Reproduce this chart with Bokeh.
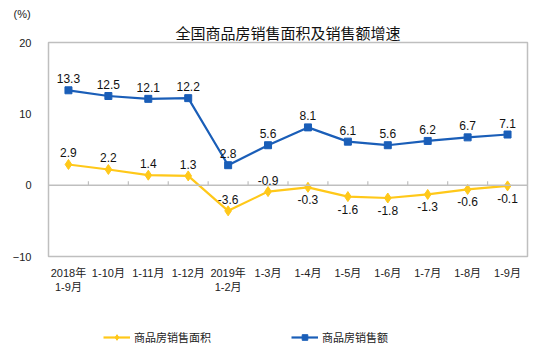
from math import pi
from bokeh.plotting import figure
from bokeh.layouts import column
from bokeh.models import (ColumnDataSource, FixedTicker, LinearAxis, Legend,
                          LegendItem, Range1d, LabelSet, Span, Title)
from bokeh.core.properties import value
from bokeh.embed import file_html
from bokeh.resources import INLINE

categories = ["2018年\n1-9月", "1-10月", "1-11月", "1-12月", "2019年\n1-2月", "1-3月",
              "1-4月", "1-5月", "1-6月", "1-7月", "1-8月", "1-9月"]
area = [2.9, 2.2, 1.4, 1.3, -3.6, -0.9, -0.3, -1.6, -1.8, -1.3, -0.6, -0.1]
sales = [13.3, 12.5, 12.1, 12.2, 2.8, 5.6, 8.1, 6.1, 5.6, 6.2, 6.7, 7.1]
area_label_above = [True, True, True, True, True, True, False, False, False, False, False, False]
y_ticks = [-10, 0, 10, 20]
series_names = ["商品房销售面积", "商品房销售额"]

YELLOW = "#FFC819"
BLUE = "#1A5EB8"
GRAY = "#BFBFBF"
NUMFONT = "Liberation Sans"
CJK = "Noto Sans CJK SC"
MIXED = "Liberation Sans, Noto Sans CJK SC"

n = len(categories)
xs = [i + 0.5 for i in range(n)]

p = figure(width=546, height=310, output_backend="svg", toolbar_location=None,
           x_range=Range1d(0, n), y_range=Range1d(-10, 20),
           min_border_left=48, min_border_right=19, min_border_top=42, min_border_bottom=54,
           x_axis_location=None, y_axis_location=None)
p.grid.visible = False
p.outline_line_color = GRAY
p.outline_line_width = 1.5
p.background_fill_color = "white"
p.border_fill_color = "white"

# titles: first added is closest to the frame
p.add_layout(Title(text="全国商品房销售面积及销售额增速", align="center", offset=-13,
                   text_font=CJK, text_font_size="15px", text_font_style="normal",
                   text_color="#111111", standoff=0), "above")
p.add_layout(Title(text="(%)", align="left", offset=-35,
                   text_font=NUMFONT, text_font_size="11px", text_font_style="normal",
                   text_color="#222222", standoff=0), "above")

# y axis
yax = LinearAxis(ticker=FixedTicker(ticks=y_ticks))
yax.axis_line_color = None
yax.major_tick_line_color = None
yax.minor_tick_line_color = None
yax.major_label_text_font = NUMFONT
yax.major_label_text_font_size = "11px"
yax.major_label_text_color = "#222222"
yax.major_label_standoff = 11
p.add_layout(yax, "left")

# category labels axis (bottom)
xax = LinearAxis(ticker=FixedTicker(ticks=xs))
xax.major_label_overrides = {x: c for x, c in zip(xs, categories)}
xax.axis_line_color = None
xax.major_tick_line_color = None
xax.minor_tick_line_color = None
xax.major_label_text_font = MIXED
xax.major_label_text_font_size = "11px"
xax.major_label_text_color = "#222222"
xax.major_label_standoff = 4
p.add_layout(xax, "below")

# zero line with category boundary ticks
p.add_layout(Span(location=0, dimension="width", line_color=GRAY, line_width=1.5))
bounds = list(range(1, n))
p.ray(x=bounds, y=[0] * len(bounds), length=4, length_units="screen", angle=pi / 2,
      line_color=GRAY, line_width=1.2)

src = ColumnDataSource(dict(x=xs, area=area, sales=sales,
                            sales_txt=[f"{v:.1f}" for v in sales]))

p.line("x", "area", source=src, line_color=YELLOW, line_width=2.2)
p.scatter("x", "area", source=src, marker="diamond", size=10, fill_color=YELLOW,
          line_color=YELLOW)
p.line("x", "sales", source=src, line_color=BLUE, line_width=2.2)
p.scatter("x", "sales", source=src, marker="square", size=7, fill_color=BLUE,
          line_color=BLUE)

p.add_layout(LabelSet(x="x", y="sales", text="sales_txt", source=src, y_offset=7,
                      text_align="center", text_baseline="bottom",
                      text_font=value(NUMFONT), text_font_size="12px",
                      text_color="#111111"))
src_up = ColumnDataSource(dict(
    x=[x for x, a in zip(xs, area_label_above) if a],
    y=[v for v, a in zip(area, area_label_above) if a],
    t=[f"{v:.1f}" for v, a in zip(area, area_label_above) if a]))
src_dn = ColumnDataSource(dict(
    x=[x for x, a in zip(xs, area_label_above) if not a],
    y=[v for v, a in zip(area, area_label_above) if not a],
    t=[f"{v:.1f}" for v, a in zip(area, area_label_above) if not a]))
p.add_layout(LabelSet(x="x", y="y", text="t", source=src_up, y_offset=7,
                      text_align="center", text_baseline="bottom",
                      text_font=value(NUMFONT), text_font_size="12px",
                      text_color="#111111"))
p.add_layout(LabelSet(x="x", y="y", text="t", source=src_dn, y_offset=-8,
                      text_align="center", text_baseline="top",
                      text_font=value(NUMFONT), text_font_size="12px",
                      text_color="#111111"))

# legend strip below (its renderers share the data but the range keeps them off-view)
q = figure(width=546, height=41, output_backend="svg", toolbar_location=None,
           x_range=Range1d(-200, -199), y_range=Range1d(-200, -199),
           min_border=0, x_axis_location=None, y_axis_location=None)
q.grid.visible = False
q.outline_line_color = None
q.border_fill_color = "white"
q.background_fill_color = "white"
r1 = [q.line("x", "area", source=src, line_color=YELLOW, line_width=2.2),
      q.scatter("x", "area", source=src, marker="diamond", size=10, fill_color=YELLOW,
                line_color=YELLOW)]
r2 = [q.line("x", "sales", source=src, line_color=BLUE, line_width=2.2),
      q.scatter("x", "sales", source=src, marker="square", size=7, fill_color=BLUE,
                line_color=BLUE)]
legend = Legend(items=[LegendItem(label=series_names[0], renderers=r1),
                       LegendItem(label=series_names[1], renderers=r2)],
                location=(55, 6), orientation="horizontal", spacing=80,
                glyph_width=27, glyph_height=14, label_height=14,
                label_text_font=CJK, label_text_font_size="11px",
                label_text_color="#222222", border_line_color=None,
                background_fill_alpha=0, padding=0, margin=0, label_standoff=4)
q.add_layout(legend, "center")

open("out.html", "w").write(file_html(column(p, q, spacing=0), INLINE))
